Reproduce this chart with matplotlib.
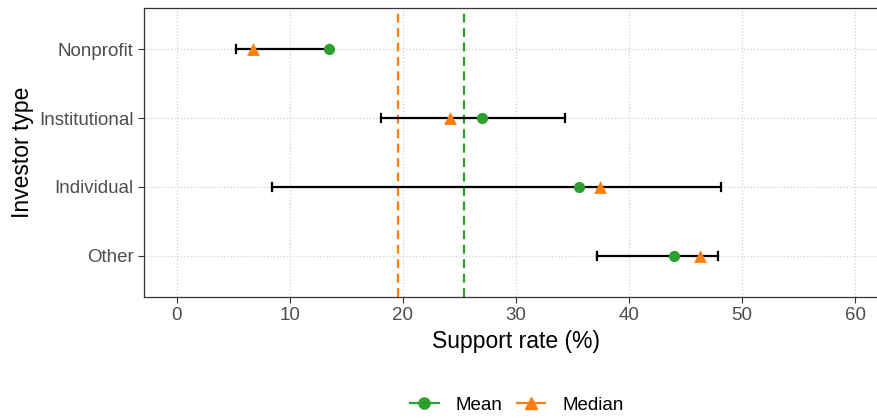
import matplotlib.pyplot as plt
from matplotlib.lines import Line2D

plt.rcParams['font.family'] = ['Liberation Sans', 'DejaVu Sans']

# investor types, bottom to top
types = ['Other', 'Individual', 'Institutional', 'Nonprofit']
means = [44.0, 35.6, 27.0, 13.5]
medians = [46.3, 37.4, 24.2, 6.7]
lows = [37.2, 8.4, 18.1, 5.2]
highs = [47.9, 48.1, 34.3, 13.5]
overall_mean = 25.4
overall_median = 19.6

green = '#2ca02c'
orange = '#ff7f0e'

fig = plt.figure(figsize=(8.78, 4.19), dpi=100)
# panel runs slightly past the right edge of the image, as in the original
ax = fig.add_axes([144 / 878, 1 - 297 / 419, (888 - 144) / 878, (297 - 8) / 419])

ypos = list(range(len(types)))
ax.grid(True, color='#d0d0d0', linestyle=':', linewidth=0.9)
ax.set_axisbelow(True)

ax.axvline(overall_median, color=orange, linestyle=(0, (4, 2.5)), linewidth=1.6, zorder=2)
ax.axvline(overall_mean, color=green, linestyle=(0, (4, 2.5)), linewidth=1.6, zorder=2)

for y, lo, hi in zip(ypos, lows, highs):
    ax.plot([lo, hi], [y, y], color='black', linewidth=1.6, zorder=3)
    ax.plot([lo, lo], [y - 0.06, y + 0.06], color='black', linewidth=1.6, zorder=3)
    ax.plot([hi, hi], [y - 0.06, y + 0.06], color='black', linewidth=1.6, zorder=3)

ax.scatter(means, ypos, marker='o', s=65, color=green, zorder=4, linewidths=0)
ax.scatter(medians, ypos, marker='^', s=85, color=orange, zorder=4, linewidths=0)

ax.set_xlim(-2.9, 62.9)
ax.set_ylim(-0.6, 3.6)
ax.set_xticks(range(0, 61, 10))
ax.set_yticks(ypos)
ax.set_yticklabels(types)
ax.tick_params(labelsize=13.5, labelcolor='#4d4d4d', color='#333333', length=4, width=0.8)
for s in ax.spines.values():
    s.set_color('#333333')
    s.set_linewidth(0.9)

ax.set_xlabel('Support rate (%)', fontsize=16.5, labelpad=4)
ax.set_ylabel('Investor type', fontsize=16.5, labelpad=4)

handles = [
    Line2D([], [], color=green, marker='o', markersize=8, linewidth=1.6),
    Line2D([], [], color=orange, marker='^', markersize=9, linewidth=1.6),
]
fig.legend(handles, ['Mean', 'Median'], loc='center', bbox_to_anchor=(517 / 878, 1 - 405 / 419),
           ncol=2, frameon=False, fontsize=13.5, handlelength=1.5, handletextpad=0.9,
           columnspacing=0.8)

fig.savefig('out.png', dpi=100)
